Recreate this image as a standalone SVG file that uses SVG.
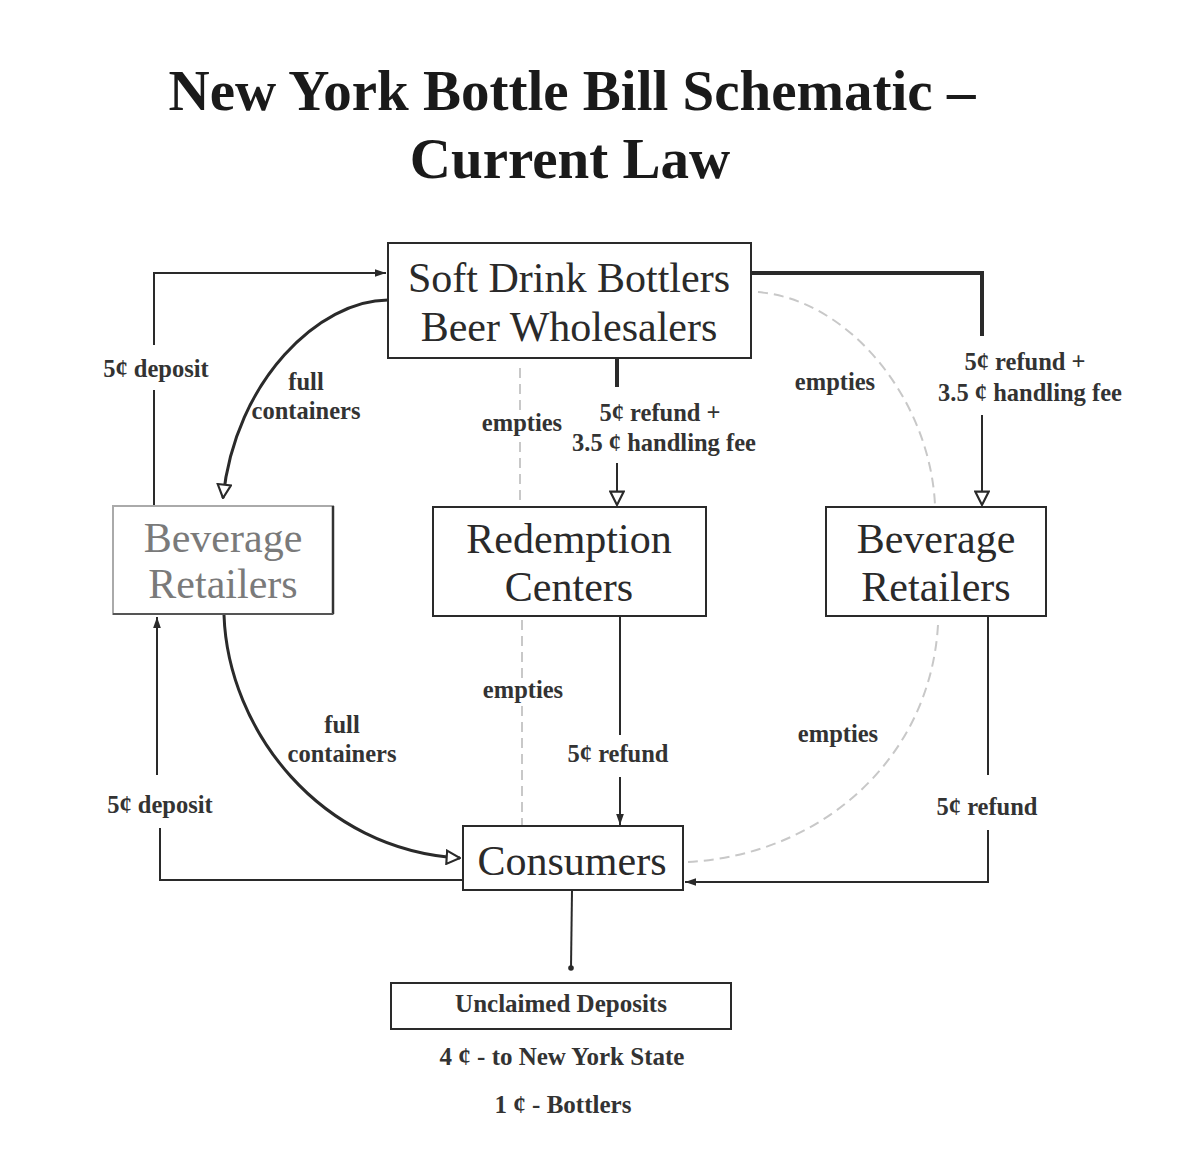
<svg xmlns="http://www.w3.org/2000/svg" width="1200" height="1152" viewBox="0 0 1200 1152">
<style>
.title{font-family:"Liberation Serif",serif;font-weight:bold;font-size:57px;fill:#1a1a1a;text-anchor:middle}
.node{fill:#fff;stroke:#2a2a2a;stroke-width:2}
.ntext{font-family:"Liberation Serif",serif;font-size:42px;fill:#2a2a2a;text-anchor:middle}
.lbl{font-family:"Liberation Serif",serif;font-weight:bold;font-size:24.5px;fill:#333;text-anchor:middle}
.line{fill:none;stroke:#2a2a2a;stroke-width:2}
.thick{fill:none;stroke:#2a2a2a;stroke-width:4}
.curve{fill:none;stroke:#2a2a2a;stroke-width:3}
.faint{fill:none;stroke:#c8c8c8;stroke-width:2;stroke-dasharray:10 6}
</style>
<defs>
<marker id="fill" viewBox="0 0 10 10" refX="10" refY="5" markerWidth="11" markerHeight="11" markerUnits="userSpaceOnUse" orient="auto"><path d="M0,1.5 L10,5 L0,8.5 z" fill="#2a2a2a"/></marker>
<marker id="open" viewBox="0 0 12 12" refX="11" refY="6" markerWidth="16" markerHeight="16" markerUnits="userSpaceOnUse" orient="auto"><path d="M1,1 L11,6 L1,11 z" fill="#fff" stroke="#2a2a2a" stroke-width="1.6"/></marker>
<marker id="dot" viewBox="0 0 10 10" refX="5" refY="5" markerWidth="7" markerHeight="7" markerUnits="userSpaceOnUse"><circle cx="5" cy="5" r="4" fill="#2a2a2a"/></marker>
</defs>
<rect width="1200" height="1152" fill="#fff"/>
<text class="title" x="572" y="110">New York Bottle Bill Schematic –</text>
<text class="title" x="570" y="178">Current Law</text>

<g id="connectors">
  <!-- left top: 5c deposit -->
  <polyline class="line" points="154,345 154,273 386,273" marker-end="url(#fill)"/>
  <line class="line" x1="154" y1="390" x2="154" y2="506"/>
  <text class="lbl" x="156" y="377">5¢ deposit</text>
  <!-- full containers top curve -->
  <path class="curve" d="M388,300 C320,300 235,380 223,498" marker-end="url(#open)"/>
  <text class="lbl" x="306" y="390">full</text>
  <text class="lbl" x="306" y="419">containers</text>
  <!-- center top: refund + fee -->
  <line class="thick" x1="617" y1="358" x2="617" y2="387"/>
  <line class="line" x1="617" y1="463" x2="617" y2="505" marker-end="url(#open)"/>
  <text class="lbl" x="660" y="421">5¢ refund +</text>
  <text class="lbl" x="664" y="451">3.5 ¢ handling fee</text>
  <!-- center empties dashed -->
  <line class="faint" x1="520" y1="368" x2="520" y2="410"/>
  <line class="faint" x1="520" y1="442" x2="520" y2="500"/>
  <text class="lbl" x="522" y="431">empties</text>
  <line class="faint" x1="522" y1="620" x2="522" y2="678"/>
  <line class="faint" x1="522" y1="706" x2="522" y2="826"/>
  <text class="lbl" x="523" y="698">empties</text>
  <!-- right top -->
  <polyline class="thick" points="751,273 982,273 982,336"/>
  <line class="line" x1="982" y1="415" x2="982" y2="505" marker-end="url(#open)"/>
  <text class="lbl" x="1025" y="370">5¢ refund +</text>
  <text class="lbl" x="1030" y="401">3.5 ¢ handling fee</text>
  <!-- right top empties arc -->
  <path class="faint" d="M758,292 C850,300 930,400 935,505"/>
  <text class="lbl" x="835" y="390">empties</text>
  <!-- redemption -> consumers -->
  <line class="line" x1="620" y1="616" x2="620" y2="735"/>
  <line class="line" x1="620" y1="777" x2="620" y2="825" marker-end="url(#fill)"/>
  <text class="lbl" x="618" y="762">5¢ refund</text>
  <!-- right retailers -> consumers -->
  <line class="line" x1="988" y1="616" x2="988" y2="775"/>
  <polyline class="line" points="988,830 988,882 685,882" marker-end="url(#fill)"/>
  <text class="lbl" x="987" y="815">5¢ refund</text>
  <!-- right bottom empties arc -->
  <path class="faint" d="M938,625 C930,760 820,855 688,862"/>
  <text class="lbl" x="838" y="742">empties</text>
  <!-- left bottom: 5c deposit -->
  <polyline class="line" points="463,880 160,880 160,828"/>
  <line class="line" x1="157" y1="775" x2="157" y2="617" marker-end="url(#fill)"/>
  <text class="lbl" x="160" y="813">5¢ deposit</text>
  <!-- full containers bottom curve -->
  <path class="curve" d="M224,615 C228,730 320,850 460,858" marker-end="url(#open)"/>
  <text class="lbl" x="342" y="733">full</text>
  <text class="lbl" x="342" y="762">containers</text>
  <!-- consumers -> unclaimed -->
  <line class="line" x1="572" y1="890" x2="571" y2="968" marker-end="url(#dot)"/>
</g>

<g id="bottlers">
  <rect class="node" x="388" y="243" width="363" height="115"/>
  <text class="ntext" x="569" y="292">Soft Drink Bottlers</text>
  <text class="ntext" x="569" y="341">Beer Wholesalers</text>
</g>
<g id="retailers-left">
  <rect x="113" y="506" width="220" height="108" fill="#fff" stroke="#aaa" stroke-width="2"/>
  <line x1="333" y1="506" x2="333" y2="614" stroke="#333" stroke-width="2.5"/>
  <line x1="113" y1="614" x2="333" y2="614" stroke="#555" stroke-width="2"/>
  <text class="ntext" x="223" y="552" style="fill:#7a7a7a">Beverage</text>
  <text class="ntext" x="223" y="598" style="fill:#7a7a7a">Retailers</text>
</g>
<g id="redemption">
  <rect class="node" x="433" y="507" width="273" height="109"/>
  <text class="ntext" x="569" y="553">Redemption</text>
  <text class="ntext" x="569" y="601">Centers</text>
</g>
<g id="retailers-right">
  <rect class="node" x="826" y="507" width="220" height="109"/>
  <text class="ntext" x="936" y="553">Beverage</text>
  <text class="ntext" x="936" y="601">Retailers</text>
</g>
<g id="consumers">
  <rect class="node" x="463" y="826" width="220" height="64"/>
  <text class="ntext" x="572" y="875">Consumers</text>
</g>
<g id="unclaimed">
  <rect class="node" x="391" y="983" width="340" height="46"/>
  <text class="lbl" x="561" y="1012" style="font-size:25px">Unclaimed Deposits</text>
  <text class="lbl" x="562" y="1065" style="font-size:25px">4 ¢ - to New York State</text>
  <text class="lbl" x="563" y="1113" style="font-size:25px">1 ¢ - Bottlers</text>
</g>
</svg>
